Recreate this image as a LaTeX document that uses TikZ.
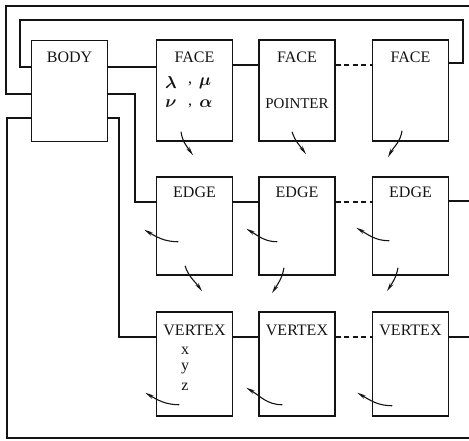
\documentclass[tikz,border=0pt]{standalone}
\usepackage{fontspec}
\setmainfont{Liberation Serif}
\usepackage{amsmath}
\usetikzlibrary{arrows.meta}
\definecolor{Ink}{HTML}{141414}

\begin{document}
\begin{tikzpicture}[x=1pt,y=-1pt,
    box/.style={draw=Ink,line width=1.5pt,minimum width=76pt,inner sep=0pt},
    link/.style={draw=Ink,line width=1.1pt},
    ptr/.style={draw=Ink,line width=1.1pt,-{Stealth[length=9pt,width=3.8pt]}},
    lbl/.style={font=\fontsize{16}{18}\selectfont\boldmath,text=Ink,inner sep=0pt}]
  \useasboundingbox (0,0) rectangle (469,440);
  % the record boxes
  \node[box,minimum height=101pt] (body) at (69.5,91) {};
  \node[lbl] (bodyl) at ([yshift=-18pt]body.north) {BODY};
  \foreach \n/\x in {1/194.5,2/297,3/410.5} {
    \node[box,minimum height=101pt] (f\n) at (\x,90.5) {};
    \node[box,minimum height=98pt] (e\n) at (\x,226) {};
    \node[box,minimum height=104pt] (v\n) at (\x,364) {};
    \node[lbl] (fl\n) at ([yshift=-18pt]f\n.north) {FACE};
    \node[lbl] (el\n) at ([yshift=-16pt]e\n.north) {EDGE};
    \node[lbl] (vl\n) at ([yshift=-19pt]v\n.north) {VERTEX};
  }
  \foreach \k/\s/\px/\py in {a/$\lambda$/171/82,b/{,}/190/84,c/$\mu$/205/83,
                             d/$\nu$/171/104,e/{,}/190/106,f/$\alpha$/206/104}
    \node[lbl] (g\k) at (\px,\py) {\s};
  \node[lbl,font=\fontsize{15}{17}\selectfont] (pointer) at (297,104) {POINTER};
  \foreach \s/\py in {x/351,y/369,z/387}
    \node[lbl] (c\s) at (185,\py) {\s};

  % levels and outer corners
  \coordinate (fy) at (0,65);
  \coordinate (ey) at (0,202);
  \coordinate (vy) at (0,337);
  \coordinate (topL) at (6,6);
  \coordinate (topR) at (469,6);
  \coordinate (loopL) at (20,20);
  \coordinate (loopR) at (463,63);
  \coordinate (botL) at (7,438);
  \coordinate (botR) at (469,438);
  \coordinate (eturn) at (135,202);
  \coordinate (vturn) at (119,337);
  \coordinate (eR) at (469,201);
  \coordinate (vR) at (469,337);

  % body links
  \draw[link] (body.west |- 0,94) -| (topL) -- (topR);
  \draw[link] (body.west |- 0,67) -| (loopL) -| (loopR) -- (f3.east |- loopR);
  \draw[link] (body.west |- 0,118) -| (botL) -- (botR);
  \draw[link] (body.east |- 0,67) -- (f1.west |- 0,67);
  \draw[link] (body.east |- 0,94) -| (eturn) -- (e1.west |- eturn);
  \draw[link] (body.east |- 0,118) -| (vturn) -- (v1.west |- vturn);

  % row links
  \draw[link] (f1.east |- fy) -- (f2.west |- fy);
  \draw[link,dash pattern=on 5pt off 3.5pt] (f2.east |- fy) -- (f3.west |- fy);
  \draw[link] (e1.east |- ey) -- (e2.west |- ey);
  \draw[link,dash pattern=on 5pt off 3.5pt] (e2.east |- ey) -- (e3.west |- ey);
  \draw[link] (e3.east |- eR) -- (eR);
  \draw[link] (v1.east |- vy) -- (v2.west |- vy);
  \draw[link,dash pattern=on 5pt off 3.5pt] (v2.east |- vy) -- (v3.west |- vy);
  \draw[link] (v3.east |- vR) -- (vR);

  % pointers down
  \foreach \a/\ax/\ay/\b/\bx/\by/\o/\i in {
    f1/-13.5/-10/e1/-1.5/-21/-82/125,
    f2/-5/-10/e2/9/-22/-72/125,
    f3/-8.5/-11/e3/-22.5/-19/-98/62,
    e1/-9.5/-10/v1/7.5/-20/-72/125,
    e2/-13/-8/v2/-25/-18/-100/58,
    e3/-12.5/-8/v3/-23.5/-20/-100/58}
    \draw[ptr] ([shift={(\ax,\ay)}]\a.south) to[out=\o,in=\i] ([shift={(\bx,\by)}]\b.north);
  % pointers back
  \foreach \a/\ax/\ay/\bx/\by in {
    e1/22.5/-34/-11.5/-46, e2/19/-34/-12/-47, e3/17.5/-35/-15.5/-48,
    v1/23.5/-12/-10.5/-24, v2/24/-12/-12/-29, v3/20.5/-11/-14.5/-24}
    \draw[ptr] ([shift={(\ax,\ay)}]\a.south west) to[out=180,in=-30] ([shift={(\bx,\by)}]\a.south west);
\end{tikzpicture}
\end{document}
